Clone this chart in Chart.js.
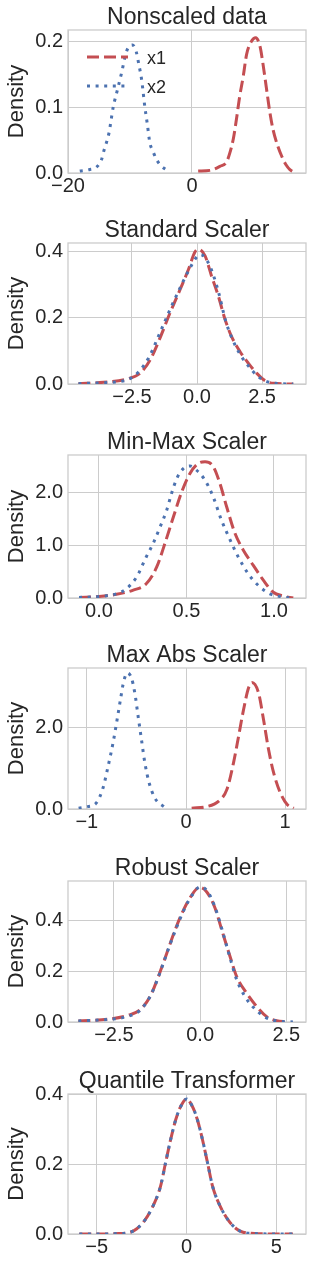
<!DOCTYPE html>
<html>
<head>
<meta charset="utf-8">
<script src="https://cdn.jsdelivr.net/npm/chart.js@4.4.0/dist/chart.umd.min.js"></script>
<style>
  html, body { margin: 0; padding: 0; background: #fff; overflow: hidden; }
  canvas { position: absolute; left: 0; }
</style>
</head>
<body>
<canvas id="c1" width="310" height="197" style="top:6px"></canvas>
<canvas id="c2" width="310" height="195" style="top:219px"></canvas>
<canvas id="c3" width="310" height="197" style="top:431px"></canvas>
<canvas id="c4" width="310" height="195" style="top:644px"></canvas>
<canvas id="c5" width="310" height="195" style="top:857px"></canvas>
<canvas id="c6" width="310" height="194" style="top:1070px"></canvas>
<script>
const RED = "#c44e52";
const BLUE = "#4c72b0";
const INK = "#262626";
const GRID = "#cccccc";
Chart.defaults.font.family = "'Liberation Sans', Arial, sans-serif";

const seriesNames = ["x1", "x2"];

// Nonscaled data
const rawX1 = [1.0, 2.9, 4.5, 5.6, 6.1, 6.7, 7.2, 7.7, 8.3, 8.8, 9.5, 10.3, 11.0, 11.4, 11.8, 12.2, 12.6, 13.1, 13.8, 14.5, 15.2, 15.8, 16.3];
const rawD1 = [0.003, 0.004, 0.010, 0.017, 0.030, 0.053, 0.083, 0.116, 0.148, 0.179, 0.198, 0.205, 0.191, 0.169, 0.143, 0.116, 0.090, 0.065, 0.042, 0.025, 0.012, 0.005, 0.002];
const rawX2 = [-18.1, -16.6, -15.4, -14.6, -14.2, -13.8, -13.4, -12.7, -12.0, -11.3, -10.7, -10.2, -9.6, -9.0, -8.6, -8.1, -7.6, -7.2, -6.8, -6.3, -5.8, -5.1, -3.8];
const rawD2 = [0.003, 0.005, 0.009, 0.020, 0.034, 0.046, 0.060, 0.100, 0.127, 0.154, 0.180, 0.191, 0.194, 0.184, 0.166, 0.140, 0.100, 0.074, 0.046, 0.033, 0.022, 0.012, 0.003];
const rawXTicks = [-20, 0];
const rawXLabels = ["\u221220", "0"];
const rawYTicks = [0, 0.1, 0.2];
const rawYLabels = ["0.0", "0.1", "0.2"];

// Standard Scaler
const stdX1 = [-4.56, -3.6, -2.7, -2.2, -1.8, -1.4, -1.04, -0.65, -0.33, -0.08, 0.05, 0.31, 0.56, 0.82, 1.08, 1.33, 1.65, 1.97, 2.3, 2.62, 2.94, 3.7];
const stdD1 = [0.001, 0.005, 0.015, 0.032, 0.073, 0.143, 0.214, 0.285, 0.345, 0.398, 0.406, 0.386, 0.325, 0.265, 0.194, 0.143, 0.098, 0.063, 0.032, 0.010, 0.002, 0.0];
const stdX2 = [-4.56, -3.6, -2.7, -2.25, -1.85, -1.45, -1.05, -0.65, -0.3, 0.0, 0.15, 0.4, 0.62, 0.85, 1.1, 1.35, 1.65, 2.0, 2.3, 2.6, 3.0, 3.7];
const stdD2 = [0.001, 0.004, 0.012, 0.036, 0.080, 0.150, 0.222, 0.290, 0.345, 0.384, 0.390, 0.370, 0.330, 0.270, 0.190, 0.137, 0.090, 0.052, 0.026, 0.010, 0.002, 0.0];
const stdXTicks = [-2.5, 0, 2.5];
const stdXLabels = ["\u22122.5", "0.0", "2.5"];
const stdYTicks = [0, 0.2, 0.4];
const stdYLabels = ["0.0", "0.2", "0.4"];

// Min-Max Scaler
const mmX1 = [-0.114, 0.0, 0.1, 0.196, 0.27, 0.33, 0.377, 0.425, 0.473, 0.52, 0.568, 0.606, 0.653, 0.691, 0.73, 0.777, 0.825, 0.882, 0.939, 0.996, 1.05, 1.11];
const mmD1 = [0.01, 0.03, 0.07, 0.15, 0.27, 0.59, 1.04, 1.54, 2.02, 2.37, 2.56, 2.59, 2.50, 2.18, 1.73, 1.23, 0.91, 0.62, 0.34, 0.11, 0.04, 0.0];
const mmX2 = [-0.114, 0.0, 0.1, 0.158, 0.215, 0.27, 0.31, 0.349, 0.387, 0.415, 0.444, 0.482, 0.52, 0.558, 0.606, 0.653, 0.70, 0.75, 0.796, 0.853, 0.91, 0.977, 1.05, 1.11];
const mmD2 = [0.01, 0.03, 0.08, 0.18, 0.40, 0.78, 1.04, 1.35, 1.67, 1.99, 2.27, 2.46, 2.51, 2.43, 2.24, 1.92, 1.48, 1.10, 0.78, 0.46, 0.24, 0.08, 0.02, 0.0];
const mmXTicks = [0, 0.5, 1];
const mmXLabels = ["0.0", "0.5", "1.0"];
const mmYTicks = [0, 1, 2];
const mmYLabels = ["0.0", "1.0", "2.0"];

// Max Abs Scaler
const maX1 = [0.057, 0.21, 0.327, 0.412, 0.479, 0.53, 0.58, 0.631, 0.665, 0.732, 0.782, 0.833, 0.884, 0.951, 1.02, 1.086];
const maD1 = [0.02, 0.06, 0.19, 0.48, 1.14, 1.79, 2.45, 2.99, 3.12, 2.86, 2.2, 1.46, 0.89, 0.40, 0.11, 0.02];
const maX2 = [-1.083, -0.99, -0.904, -0.837, -0.786, -0.736, -0.695, -0.661, -0.628, -0.59, -0.55, -0.516, -0.483, -0.449, -0.415, -0.371, -0.314, -0.213];
const maD2 = [0.02, 0.06, 0.15, 0.52, 1.05, 1.63, 2.2, 2.7, 3.15, 3.36, 3.23, 2.86, 2.29, 1.71, 1.14, 0.64, 0.27, 0.04];
const maXTicks = [-1, 0, 1];
const maXLabels = ["\u22121", "0", "1"];
const maYTicks = [0, 2];
const maYLabels = ["0.0", "2.0"];

// Robust Scaler
const rbX1 = [-3.53, -2.61, -2.12, -1.74, -1.45, -1.21, -0.966, -0.725, -0.483, -0.241, -0.02, 0.193, 0.435, 0.628, 0.87, 1.06, 1.35, 1.64, 1.93, 2.22, 2.51];
const rbD1 = [0.004, 0.012, 0.025, 0.048, 0.10, 0.178, 0.27, 0.361, 0.439, 0.498, 0.528, 0.51, 0.446, 0.361, 0.256, 0.178, 0.113, 0.061, 0.021, 0.005, 0.001];
const rbX2 = [-3.53, -2.6, -2.1, -1.75, -1.45, -1.2, -0.95, -0.7, -0.46, -0.22, 0.0, 0.2, 0.42, 0.62, 0.85, 1.05, 1.3, 1.6, 1.9, 2.2, 2.69];
const rbD2 = [0.004, 0.011, 0.022, 0.045, 0.10, 0.18, 0.275, 0.365, 0.442, 0.50, 0.53, 0.515, 0.455, 0.37, 0.26, 0.17, 0.10, 0.05, 0.018, 0.005, 0.0];
const rbXTicks = [-2.5, 0, 2.5];
const rbXLabels = ["\u22122.5", "0.0", "2.5"];
const rbYTicks = [0, 0.2, 0.4];
const rbYLabels = ["0.0", "0.2", "0.4"];

// Quantile Transformer
const qtX1 = [-5.97, -5.0, -4.0, -3.15, -2.77, -2.30, -1.83, -1.45, -1.17, -0.885, -0.60, -0.32, 0.0, 0.32, 0.60, 0.885, 1.17, 1.45, 1.83, 2.30, 2.77, 3.15, 4.0, 5.0, 5.92];
const qtD1 = [0.0, 0.0, 0.001, 0.005, 0.015, 0.041, 0.084, 0.136, 0.203, 0.27, 0.327, 0.365, 0.386, 0.365, 0.327, 0.27, 0.203, 0.136, 0.084, 0.041, 0.015, 0.005, 0.001, 0.0, 0.0];
const qtX2 = [-5.97, -5.0, -4.0, -3.15, -2.77, -2.30, -1.83, -1.45, -1.17, -0.885, -0.60, -0.32, 0.0, 0.32, 0.60, 0.885, 1.17, 1.45, 1.83, 2.30, 2.77, 3.15, 4.0, 5.0, 5.92];
const qtD2 = [0.0, 0.0, 0.001, 0.005, 0.015, 0.041, 0.084, 0.136, 0.203, 0.27, 0.327, 0.365, 0.386, 0.365, 0.327, 0.27, 0.203, 0.136, 0.084, 0.041, 0.015, 0.005, 0.001, 0.0, 0.0];
const qtXTicks = [-5, 0, 5];
const qtXLabels = ["\u22125", "0", "5"];
const qtYTicks = [0, 0.2, 0.4];
const qtYLabels = ["0.0", "0.2", "0.4"];

const pts = (xs, ys) => xs.map((x, i) => ({ x: x, y: ys[i] }));

// axes frame (seaborn whitegrid spines)
const frame = {
    id: "frame",
    beforeDatasetsDraw(chart) {
        const { ctx, chartArea: a } = chart;
        ctx.save();
        ctx.strokeStyle = GRID;
        ctx.lineWidth = 1.3;
        ctx.strokeRect(a.left, a.top, a.right - a.left, a.bottom - a.top);
        ctx.restore();
    },
};

// legend drawn inside the plot, upper left
const innerLegend = {
    id: "innerLegend",
    afterDatasetsDraw(chart, args, opts) {
        if (!opts.show) return;
        const { ctx, chartArea: a } = chart;
        ctx.save();
        ctx.font = "18px 'Liberation Sans', Arial, sans-serif";
        ctx.textBaseline = "middle";
        chart.data.datasets.forEach((ds, i) => {
            const x = a.left + 19;
            const y = a.top + 27 + i * 29;
            ctx.strokeStyle = ds.borderColor;
            ctx.lineWidth = ds.borderWidth;
            ctx.setLineDash(ds.borderDash);
            ctx.beginPath();
            ctx.moveTo(x, y);
            ctx.lineTo(x + 41, y);
            ctx.stroke();
            ctx.setLineDash([]);
            ctx.fillStyle = INK;
            ctx.fillText(ds.label, x + 60, y + 2);
        });
        ctx.restore();
    },
};

function makeChart(id, p) {
    return new Chart(document.getElementById(id), {
        type: "line",
        data: {
            datasets: [
                { label: seriesNames[0], data: pts(p.x1, p.d1), borderColor: RED, borderWidth: 3, borderDash: [12, 5], order: 2 },
                { label: seriesNames[1], data: pts(p.x2, p.d2), borderColor: BLUE, borderWidth: 3, borderDash: [3, 5.6], order: 1 },
            ],
        },
        options: {
            responsive: false,
            animation: false,
            events: [],
            layout: { padding: { left: 0, right: 4, top: 0, bottom: 0 } },
            elements: {
                point: { radius: 0 },
                line: { cubicInterpolationMode: "monotone", fill: false, borderCapStyle: "butt" },
            },
            scales: {
                x: {
                    type: "linear",
                    min: p.xMin,
                    max: p.xMax,
                    border: { display: false },
                    grid: { color: GRID, lineWidth: 1, drawTicks: false },
                    ticks: {
                        color: INK,
                        font: { size: 20, lineHeight: 1 },
                        padding: 3,
                        maxRotation: 0,
                        autoSkip: false,
                        callback: (v, i) => p.xLabels[i],
                    },
                    afterBuildTicks: (axis) => { axis.ticks = p.xTicks.map((v) => ({ value: v })); },
                    afterFit: (axis) => { axis.height = 30; },
                },
                y: {
                    min: 0,
                    max: p.yMax,
                    border: { display: false },
                    grid: { color: GRID, lineWidth: 1, drawTicks: false },
                    ticks: {
                        color: INK,
                        font: { size: 20, lineHeight: 1 },
                        padding: 5,
                        autoSkip: false,
                        callback: (v, i) => p.yLabels[i],
                    },
                    title: {
                        display: true,
                        text: "Density",
                        color: INK,
                        font: { size: 22, lineHeight: 1 },
                        padding: { top: 6, bottom: 0 },
                    },
                    afterBuildTicks: (axis) => { axis.ticks = p.yTicks.map((v) => ({ value: v })); },
                    afterFit: (axis) => { axis.width = 68; },
                },
            },
            plugins: {
                legend: { display: false },
                tooltip: { enabled: false },
                title: {
                    display: true,
                    text: p.title,
                    color: INK,
                    fullSize: false,
                    font: { size: 23, weight: "normal", lineHeight: 1 },
                    padding: { top: 0, bottom: 1 },
                },
                innerLegend: { show: !!p.legend },
            },
        },
        plugins: [frame, innerLegend],
    });
}

makeChart("c1", { title: "Nonscaled data", x1: rawX1, d1: rawD1, x2: rawX2, d2: rawD2, xTicks: rawXTicks, xLabels: rawXLabels, yTicks: rawYTicks, yLabels: rawYLabels, xMin: -20, xMax: 18.4, yMax: 0.2167, legend: true });
makeChart("c2", { title: "Standard Scaler", x1: stdX1, d1: stdD1, x2: stdX2, d2: stdD2, xTicks: stdXTicks, xLabels: stdXLabels, yTicks: stdYTicks, yLabels: stdYLabels, xMin: -4.96, xMax: 4.19, yMax: 0.425 });
makeChart("c3", { title: "Min-Max Scaler", x1: mmX1, d1: mmD1, x2: mmX2, d2: mmD2, xTicks: mmXTicks, xLabels: mmXLabels, yTicks: mmYTicks, yLabels: mmYLabels, xMin: -0.177, xMax: 1.183, yMax: 2.72 });
makeChart("c4", { title: "Max Abs Scaler", x1: maX1, d1: maD1, x2: maX2, d2: maD2, xTicks: maXTicks, xLabels: maXLabels, yTicks: maYTicks, yLabels: maYLabels, xMin: -1.19, xMax: 1.21, yMax: 3.48 });
makeChart("c5", { title: "Robust Scaler", x1: rbX1, d1: rbD1, x2: rbX2, d2: rbD2, xTicks: rbXTicks, xLabels: rbXLabels, yTicks: rbYTicks, yLabels: rbYLabels, xMin: -3.83, xMax: 3.07, yMax: 0.553 });
makeChart("c6", { title: "Quantile Transformer", x1: qtX1, d1: qtD1, x2: qtX2, d2: qtD2, xTicks: qtXTicks, xLabels: qtXLabels, yTicks: qtYTicks, yLabels: qtYLabels, xMin: -6.6, xMax: 6.65, yMax: 0.4 });
</script>
</body>
</html>
